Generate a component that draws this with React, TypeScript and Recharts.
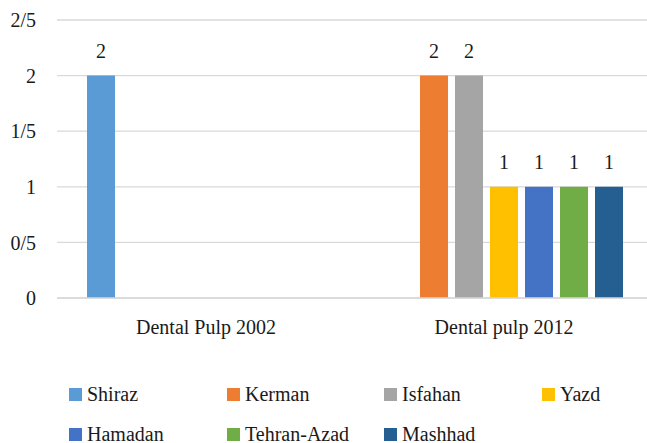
import React from "react";
import { BarChart, Bar, XAxis, YAxis, CartesianGrid, LabelList } from "recharts";

const categories = ["Dental Pulp 2002", "Dental pulp 2012"];
const cities = ["Shiraz", "Kerman", "Isfahan", "Yazd", "Hamadan", "Tehran-Azad", "Mashhad"];
const shiraz = [2, null];
const kerman = [null, 2];
const isfahan = [null, 2];
const yazd = [null, 1];
const hamadan = [null, 1];
const tehranAzad = [null, 1];
const mashhad = [null, 1];
const yTicks = [0, 0.5, 1, 1.5, 2, 2.5];

const COLORS = ["#5B9BD5", "#ED7D31", "#A5A5A5", "#FFC000", "#4472C4", "#70AD47", "#255E91"];
const FONT = "'Liberation Serif', 'DejaVu Serif', serif";
const GRID = "#d9d9d9";
const TEXT = "#1a1a1a";

const seriesValues = [shiraz, kerman, isfahan, yazd, hamadan, tehranAzad, mashhad];
const data = categories.map((name, i) => {
  const row: Record<string, string | number | null> = { name };
  cities.forEach((c, j) => (row[c] = seriesValues[j][i]));
  return row;
});

const legendCols = [69, 227, 384, 542];
const legendRows = [394, 434];

export default function App() {
  return (
    <div
      style={{
        position: "fixed",
        left: 0,
        top: 0,
        width: 647,
        height: 443,
        overflow: "hidden",
        background: "#fff",
        fontFamily: FONT,
      }}
    >
      <BarChart
        width={660}
        height={340}
        data={data}
        margin={{ top: 20, right: 7, left: 0, bottom: 0 }}
        barSize={28}
        barGap={7}
        style={{ fontFamily: FONT }}
      >
        <CartesianGrid vertical={false} stroke={GRID} strokeWidth={1.3} />
        <XAxis
          dataKey="name"
          height={42}
          tickLine={false}
          tickSize={0}
          tickMargin={22}
          axisLine={{ stroke: GRID, strokeWidth: 1.3 }}
          tick={{ fill: TEXT, fontSize: 20, fontFamily: FONT }}
        />
        <YAxis
          width={57}
          domain={[0, 2.5]}
          ticks={yTicks}
          axisLine={false}
          tickLine={false}
          tickSize={0}
          tickMargin={21}
          tickFormatter={(v) => String(v).replace(".", "/")}
          tick={{ fill: TEXT, fontSize: 20, fontFamily: FONT }}
        />
        {cities.map((c, i) => (
          <Bar key={c} dataKey={c} fill={COLORS[i]} isAnimationActive={false}>
            <LabelList
              dataKey={c}
              position="top"
              offset={18}
              formatter={(v: any) => (v == null ? "" : v)}
              style={{ fill: TEXT, fontSize: 20, fontFamily: FONT }}
            />
          </Bar>
        ))}
      </BarChart>
      {cities.map((c, i) => {
        const x = legendCols[i % 4];
        const y = legendRows[Math.floor(i / 4)];
        return (
          <div
            key={c}
            style={{
              position: "absolute",
              left: x,
              top: y - 13,
              height: 26,
              display: "flex",
              alignItems: "center",
              fontSize: 20,
              fontFamily: FONT,
              color: TEXT,
              whiteSpace: "nowrap",
            }}
          >
            <span style={{ width: 13, height: 13, background: COLORS[i], marginRight: 5, display: "inline-block" }} />
            {c}
          </div>
        );
      })}
    </div>
  );
}
